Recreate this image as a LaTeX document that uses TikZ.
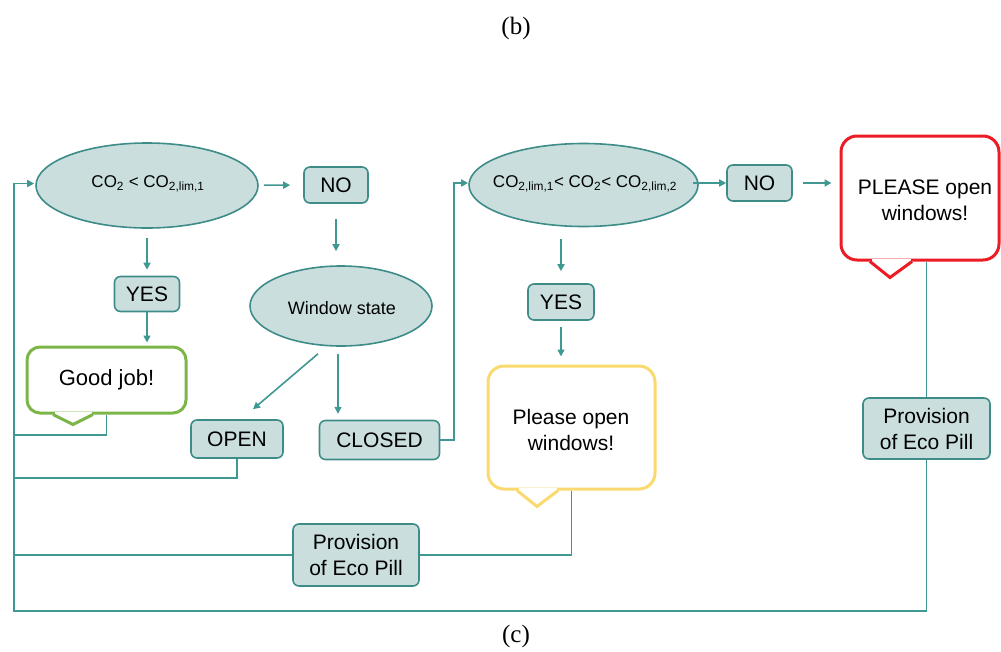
\documentclass[tikz,border=0pt]{standalone}
\usepackage{fontspec}
\setmainfont{Liberation Sans}
\newfontfamily\capfont{Liberation Serif}
\usetikzlibrary{shapes.geometric,arrows.meta,calc}
\definecolor{tline}{RGB}{64,152,146}
\definecolor{tborder}{RGB}{62,140,136}
\definecolor{tfill}{RGB}{202,222,222}
\definecolor{cgreen}{RGB}{124,181,72}
\definecolor{cred}{RGB}{236,28,36}
\definecolor{cyellow}{RGB}{250,218,110}
\tikzset{
  flowbox/.style={rectangle, rounded corners=6pt, draw=tborder, fill=tfill, line width=1.6pt,
    font=\fontsize{21}{26}\selectfont, align=center, inner sep=0pt},
  oval/.style={ellipse, draw=tborder, fill=tfill, line width=1.6pt, inner sep=0pt},
  ovaltext/.style={font=\fontsize{17}{20}\selectfont, inner sep=0pt},
  callout/.style={rectangle, rounded corners=16pt, line width=3pt, fill=white,
    font=\fontsize{21}{26}\selectfont, align=center, inner sep=0pt},
  conn/.style={draw=tline, line width=1.6pt},
  arr/.style={conn, -{Triangle[length=7pt,width=7pt]}},
  pointer/.style={line width=3pt, line join=miter, fill=white},
  caption/.style={font=\capfont\fontsize{25}{28}\selectfont, inner sep=0pt},
}
\begin{document}
\begin{tikzpicture}[x=1pt,y=-1pt]
\useasboundingbox (0,0) rectangle (1001,651);

% captions
\node[caption] (capb) at (516,28) {(b)};
\node[caption] (capc) at (516,636) {(c)};

% left part
\node[oval, minimum width=222pt, minimum height=85pt] (e1) at (147,185.5) {};
\node[ovaltext] (e1t) at (148,184) {CO\textsubscript{2} < CO\textsubscript{2,lim,1}};
\node[flowbox, minimum width=64pt, minimum height=36pt] (no1) at (336,185) {NO};
\node[flowbox, minimum width=65pt, minimum height=35pt] (yes1) at (147,294) {YES};
\node[oval, minimum width=182pt, minimum height=80pt] (ws) at (341,306) {};
\node[ovaltext, font=\fontsize{18}{20}\selectfont] (wst) at (342,308) {Window state};
\node[callout, rounded corners=13pt, draw=cgreen, minimum width=159pt, minimum height=66pt,
      font=\fontsize{22}{26}\selectfont] (good) at (106.5,380) {Good job!};
\node[flowbox, minimum width=92pt, minimum height=38pt] (open) at (237,439) {OPEN};
\node[flowbox, minimum width=120pt, minimum height=39pt] (closed) at (379.5,440) {CLOSED};

% middle part
\node[oval, minimum width=229pt, minimum height=83pt] (e2) at (583.5,185) {};
\node[ovaltext] (e2t) at (585,184) {CO\textsubscript{2,lim,1}< CO\textsubscript{2}< CO\textsubscript{2,lim,2}};
\node[flowbox, minimum width=65pt, minimum height=36pt] (no2) at (759.5,183) {NO};
\node[flowbox, minimum width=66pt, minimum height=36pt] (yes2) at (561,302) {YES};
\node[callout, draw=cyellow, minimum width=167pt, minimum height=123pt] (please) at (571.5,427.5) {};
\node[inner sep=0pt, font=\fontsize{21}{26}\selectfont, align=center] (pleaset) at (571,430) {Please open\\windows!};
\node[flowbox, minimum width=126pt, minimum height=62pt] (pill1) at (356,555) {Provision\\of Eco Pill};

% right part
\node[callout, draw=cred, minimum width=158pt, minimum height=124pt] (urgent) at (920,198) {};
\node[inner sep=0pt, font=\fontsize{21}{26}\selectfont, align=center] (urgentt) at (925,200) {PLEASE open\\windows!};
\node[flowbox, minimum width=127pt, minimum height=61pt] (pill2) at (926.5,428.5) {Provision\\of Eco Pill};

% callout pointers
\fill[white] ($(good.south)+(-52,-3)$) rectangle ($(good.south)+(-15,3)$);
\draw[pointer, draw=cgreen] ($(good.south)+(-53.5,0)$) -- ++(20,10) -- ++(20,-10);
\fill[white] ($(please.south)+(-53,-3)$) rectangle ($(please.south)+(-15,3)$);
\draw[pointer, draw=cyellow] ($(please.south)+(-54.5,0)$) -- ++(20,16) -- ++(21,-16);
\fill[white] ($(urgent.south)+(-48.5,-3)$) rectangle ($(urgent.south)+(-9.5,3)$);
\draw[pointer, draw=cred] ($(urgent.south)+(-50,0)$) -- ++(20,16) -- ++(22,-16);

% bus coordinates
\coordinate (busB) at (14,611);
\coordinate (busG) at (14,435);
\coordinate (busO) at (14,478);
\coordinate (busC) at (454,183);

% connectors
\draw[arr, shorten <=5pt, shorten >=13pt] (e1) -- (no1);
\draw[arr, shorten <=15pt, shorten >=14pt] (no1) -- (no1 |- ws.north);
\draw[arr, shorten <=9pt, shorten >=6pt] (e1) -- (yes1);
\draw[arr, shorten >=3pt] (yes1) -- (yes1 |- good.north);
\draw[arr] ($(ws.south)+(-23,7)$) -- ($(open.north)+(16,-10)$);
\draw[arr] ($(ws.south)+(-3,7)$) -- ($(ws.south)+(-3,67)$);
\draw[conn] (good.south) |- (busG);
\draw[conn] (open.south) |- (busO);
\draw[arr] (closed.east) -| (busC) -- ($(e2.west)+(0,-2)$);
\draw[arr, shorten <=-6pt] (e2.east |- no2) -- (no2.west);
\draw[arr, shorten <=10pt, shorten >=8pt] (no2.east) -- (no2.east -| urgent.west);
\draw[arr, shorten <=12pt, shorten >=12pt] (yes2 |- e2.south) -- (yes2.north);
\draw[arr, shorten <=6pt, shorten >=8pt] (yes2.south) -- (yes2.south |- please.north);
\draw[conn] (please.south) |- (pill1.east);
\draw[conn] (pill1.west) -- (pill1.west -| busB);
\draw[conn] (pill2.north) -- (pill2 |- urgent.south);
\draw[arr, shorten >=1pt] (pill2.south) |- (busB) |- ($(e1.west)+(0,-2)$);
\end{tikzpicture}
\end{document}
